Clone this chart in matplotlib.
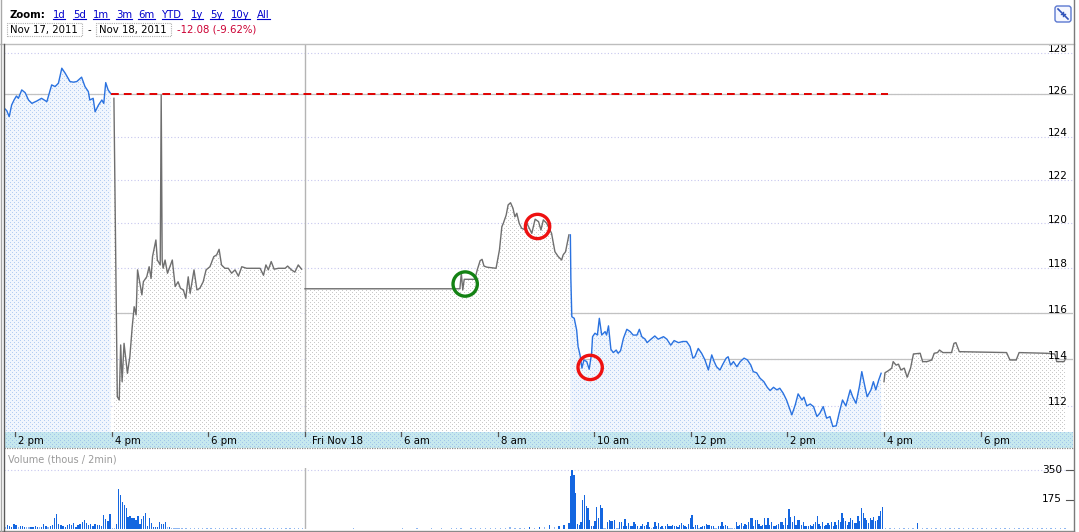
import numpy as np
import matplotlib
matplotlib.use("Agg")
import matplotlib.pyplot as plt
from matplotlib.colors import to_rgba
from matplotlib.lines import Line2D
from matplotlib.patches import Rectangle, FancyBboxPatch
from matplotlib.transforms import IdentityTransform, blended_transform_factory, offset_copy

# ---------------- data (times in clock hours) ----------------
# Nov 17, regular session (blue)
d1_reg_t = [13.76, 13.82, 13.87, 13.92, 13.97, 14.02, 14.06, 14.13, 14.20, 14.27, 14.34, 14.44,
            14.54, 14.65, 14.75, 14.82, 14.89, 14.96, 15.03, 15.13, 15.20, 15.27, 15.37, 15.44,
            15.51, 15.54, 15.61, 15.65, 15.72, 15.79, 15.83, 15.87, 15.92, 15.97]
d1_reg_p = [125.36, 125.22, 124.94, 125.49, 125.73, 125.92, 125.81, 126.21, 126.08, 125.73, 125.57, 125.68,
            125.81, 125.65, 126.45, 126.37, 126.53, 127.25, 127.01, 126.61, 126.58, 126.61, 126.82, 126.37,
            126.13, 125.73, 125.81, 125.17, 125.49, 125.73, 125.57, 126.56, 126.21, 126.05]

# Nov 17, after hours (grey)
d1_ah_t = [16.04, 16.11, 16.15, 16.18, 16.21, 16.25, 16.32, 16.37, 16.42, 16.46, 16.50, 16.53,
           16.62, 16.65, 16.72, 16.77, 16.81, 16.84, 16.91, 16.94, 17.00, 17.02, 17.04, 17.06,
           17.10, 17.15, 17.20, 17.25, 17.31, 17.37, 17.42, 17.48, 17.53, 17.58, 17.62, 17.70,
           17.76, 17.82, 17.89, 17.95, 18.03, 18.11, 18.17, 18.22, 18.27, 18.34, 18.41, 18.48,
           18.55, 18.62, 18.69, 18.79, 18.93, 19.07, 19.14, 19.19, 19.24, 19.30, 19.36, 19.45,
           19.59, 19.64, 19.72, 19.79, 19.86, 19.93]
d1_ah_p = [125.81, 112.39, 112.25, 114.61, 113.03, 114.68, 113.39, 114.10, 115.41, 116.28, 115.92, 117.91,
           116.80, 117.38, 117.60, 118.05, 117.53, 118.50, 119.25, 118.35, 118.13, 125.97, 118.35, 117.98,
           118.35, 117.76, 118.05, 118.35, 117.17, 117.38, 117.09, 117.02, 116.65, 117.60, 116.87, 117.91,
           117.02, 117.09, 117.38, 117.91, 118.05, 118.50, 118.58, 118.83, 118.13, 117.98, 117.98, 117.76,
           117.91, 117.63, 118.05, 117.98, 117.98, 117.98, 117.67, 118.13, 117.91, 118.28, 117.94, 117.98,
           117.98, 118.08, 117.91, 117.81, 118.13, 117.94]

# Nov 18, pre-market (grey)
d2_pre_t = [4.00, 6.38, 7.20, 7.21, 7.24, 7.27, 7.30, 7.52, 7.57, 7.63, 7.67, 7.71, 7.77, 7.96,
            8.03, 8.08, 8.11, 8.17, 8.21, 8.26, 8.31, 8.35, 8.39, 8.44, 8.49, 8.54, 8.60, 8.70,
            8.77, 8.84, 8.89, 8.94, 9.01, 9.11, 9.18, 9.25, 9.32, 9.35, 9.40, 9.47]
d2_pre_p = [117.07, 117.07, 117.07, 117.07, 117.76, 117.02, 117.49, 117.49, 117.91, 118.32, 118.38, 118.08,
            118.03, 117.98, 118.80, 119.85, 120.00, 120.38, 120.84, 120.94, 120.69, 120.30, 120.46, 120.00,
            119.78, 119.73, 120.00, 119.55, 120.19, 120.08, 119.70, 120.16, 120.00, 119.55, 118.72, 118.50,
            118.35, 118.58, 118.72, 119.48]

# Nov 18, regular session (blue)
d2_reg_t = [9.50, 9.51, 9.53, 9.58, 9.63, 9.66, 9.70, 9.74, 9.78, 9.84, 9.89, 9.94, 9.96, 10.01,
            10.06, 10.10, 10.15, 10.22, 10.25, 10.29, 10.34, 10.39, 10.45, 10.49, 10.54, 10.60, 10.67,
            10.74, 10.80, 10.88, 10.93, 10.98, 11.05, 11.09, 11.17, 11.25, 11.32, 11.43, 11.50, 11.58,
            11.65, 11.74, 11.83, 11.91, 11.98, 12.04, 12.08, 12.15, 12.22, 12.29, 12.36, 12.43, 12.48,
            12.53, 12.60, 12.67, 12.73, 12.77, 12.82, 12.88, 12.95, 13.02, 13.10, 13.17, 13.24, 13.29,
            13.36, 13.43, 13.51, 13.58, 13.64, 13.71, 13.78, 13.84, 13.91, 13.98, 14.09, 14.16, 14.22,
            14.30, 14.34, 14.40, 14.47, 14.54, 14.61, 14.67, 14.74, 14.81, 14.88, 14.94, 15.01, 15.07,
            15.14, 15.21, 15.30, 15.35, 15.42, 15.49, 15.54, 15.59, 15.65, 15.73, 15.78, 15.83, 15.89,
            15.94]
d2_reg_p = [119.48, 117.53, 115.84, 115.77, 115.26, 114.54, 114.18, 113.61, 113.96, 113.89, 113.56, 114.25,
            114.97, 115.12, 115.04, 115.77, 115.04, 115.19, 115.04, 115.44, 114.42, 114.28, 114.39, 114.25,
            114.36, 114.90, 115.29, 115.19, 115.04, 115.04, 115.29, 114.97, 114.86, 114.71, 114.86, 115.00,
            114.86, 114.97, 114.86, 114.60, 114.80, 114.71, 114.76, 114.76, 114.54, 114.04, 114.10, 114.46,
            114.25, 113.96, 113.53, 114.18, 113.89, 113.67, 113.53, 113.82, 114.04, 114.10, 113.74, 113.89,
            113.67, 113.89, 114.04, 113.96, 113.74, 113.46, 113.41, 113.18, 113.03, 112.79, 112.65, 112.79,
            112.68, 112.75, 112.54, 112.25, 111.62, 112.04, 112.51, 112.25, 112.37, 112.00, 112.08, 111.97,
            111.55, 111.69, 111.97, 111.48, 111.55, 111.13, 111.16, 111.69, 112.25, 112.00, 112.68, 112.39,
            112.11, 112.82, 113.46, 112.96, 112.39, 112.68, 113.03, 112.68, 113.10, 113.39]

# Nov 18, after hours (grey)
d2_ah_t = [16.00, 16.02, 16.09, 16.16, 16.19, 16.25, 16.30, 16.35, 16.42, 16.48, 16.55, 16.61, 16.75,
           16.80, 16.89, 16.99, 17.04, 17.11, 17.15, 17.22, 17.40, 17.45, 17.49, 17.56, 18.54, 18.61,
           18.74, 18.80, 19.37, 19.54, 19.58, 19.73, 19.77]
d2_ah_p = [113.03, 113.41, 113.50, 113.61, 113.89, 113.74, 113.78, 113.53, 113.61, 113.22, 113.61, 114.22,
           114.25, 113.89, 113.89, 113.96, 114.25, 114.28, 114.39, 114.28, 114.28, 114.68, 114.71, 114.32,
           114.28, 113.96, 113.96, 114.28, 114.25, 114.22, 113.89, 113.89, 114.04]

prev_close = 126.0
prev_close_span = [15.97, 16.08]          # Nov 17 4pm -> Nov 18 ~4pm

circle_t = [7.32, 8.82, 9.91]             # Nov 18 clock hours
circle_p = [117.28, 119.86, 113.64]
circle_c = ["#148214", "#ee1111", "#ee1111"]

# volume (thousands per 2 min)
vol_d1_reg = [10, 24, 16, 14, 32, 24, 10, 16, 16, 14, 10, 10, 12, 14, 20, 12, 10, 12, 28, 16, 10, 20, 24, 68,
              88, 32, 24, 16, 14, 26, 28, 24, 36, 14, 24, 28, 40, 52, 36, 24, 32, 20, 28, 24, 24, 16, 84, 60,
              48, 90]
vol_d1_ah = [8, 8, 30, 240, 200, 160, 144, 124, 70, 76, 68, 68, 56, 80, 30, 60, 76, 94, 20, 66, 36, 12, 14, 14,
             44, 32, 28, 44, 10, 12, 8, 8, 8, 8, 8]
vol_d1_late = [6, 4, 8, 4, 6, 4, 4, 6, 4, 4, 8, 4, 4, 6, 4, 4, 4, 6, 4, 4, 4, 6, 4, 4, 4, 4, 6, 4, 4, 4]
vol_d2_pre = [4, 0, 0, 0, 0, 0, 0, 0, 0, 0, 4, 0, 0, 4, 0, 0, 4, 0, 4, 0, 4, 6, 4, 0, 6, 4, 8, 4, 6, 4,
              8, 6, 10, 6, 8, 6, 12, 8, 14, 10, 24, 10, 16, 22, 36]
vol_d2_reg = [316, 352, 320, 216, 32, 26, 40, 172, 200, 136, 126, 56, 16, 20, 46, 128, 66, 140, 126, 8, 8, 40,
              52, 46, 46, 56, 6, 6, 40, 40, 20, 60, 16, 36, 20, 16, 40, 32, 16, 8, 16, 32, 16, 24, 44, 12, 8,
              12, 40, 16, 36, 12, 16, 8, 20, 32, 20, 16, 24, 20, 16, 12, 26, 36, 26, 16, 12, 32, 66, 86, 12, 26,
              26, 8, 12, 20, 20, 32, 24, 24, 16, 20, 8, 8, 20, 20, 40, 16, 24, 20, 6, 6, 8, 8, 40, 16, 24, 36,
              20, 32, 24, 40, 68, 68, 20, 52, 56, 32, 16, 24, 68, 24, 64, 26, 40, 20, 16, 24, 32, 40, 40, 26,
              64, 26, 116, 72, 44, 76, 26, 56, 56, 26, 40, 20, 20, 20, 24, 16, 32, 40, 80, 28, 16, 40, 16, 24,
              36, 24, 44, 20, 40, 24, 56, 44, 92, 64, 46, 24, 44, 64, 56, 36, 36, 80, 46, 124, 92, 66, 52, 36,
              66, 52, 70, 48, 52, 76, 108, 132]
vol_d2_ah = [6, 4, 6, 4, 4, 6, 4, 34, 4, 4, 4, 4, 4, 4, 4, 4, 6, 4, 4, 4, 4, 4, 4, 4, 6, 4, 4, 4, 4, 4,
             4, 4, 4, 4, 4, 6, 4, 4, 4, 4]

price_ticks = [112, 114, 116, 118, 120, 122, 124, 126, 128]
vol_ticks = [175, 350]
tick_hours = [14, 16, 18, 20, 6, 8, 10, 12, 14, 16, 18]
tick_day = [1, 1, 1, 1, 2, 2, 2, 2, 2, 2, 2]
tick_labels = ["2 pm", "4 pm", "6 pm", "Fri Nov 18", "6 am", "8 am", "10 am", "12 pm", "2 pm", "4 pm", "6 pm"]
zoom_links = ["1d", "5d", "1m", "3m", "6m", "YTD", "1y", "5y", "10y", "All"]
date_from, date_to = "Nov 17, 2011", "Nov 18, 2011"
change_text = "-12.08 (-9.62%)"

# ---------------- layout ----------------
W, H = 1079, 532
DAY2 = 16.0               # Nov 18 clock hour h is drawn at DAY2 + h (overnight gap collapsed)
X_MIN, X_MAX = 13.762, 35.917
Y_MIN, Y_MAX = 110.90, 128.42
FS = 7.3
plt.rcParams["font.family"] = ["DejaVu Sans"]

fig = plt.figure(figsize=(W / 100, H / 100), dpi=100)
fig.patch.set_facecolor("white")


def rect(x0, y0, x1, y1):
    return [x0 / W, 1 - y1 / H, (x1 - x0) / W, (y1 - y0) / H]


AXL, AXR = 4, 1073
ax = fig.add_axes(rect(AXL, 44, AXR, 432))
band = fig.add_axes(rect(AXL, 432, AXR, 448))
vax = fig.add_axes(rect(AXL, 468, AXR, 529))

for a in (ax, band, vax):
    a.set_xlim(X_MIN, X_MAX)
    a.set_axis_off()
ax.set_yscale("log")
ax.set_ylim(Y_MIN, Y_MAX)
band.set_ylim(0, 1)
vax.set_ylim(0, 350 * 61 / 59)
for a in (ax, band, vax):
    a.set_autoscale_on(False)


def dots(h, w, bg, fg, per=4):
    arr = np.empty((h, w, 4))
    arr[:] = to_rgba(bg)
    yy, xx = np.mgrid[0:h, 0:w]
    m = ((yy % per == 0) & (xx % per == 0)) | ((yy % per == per // 2) & (xx % per == per // 2))
    arr[m] = to_rgba(fg)
    return arr


AW, AH = AXR - AXL, 432 - 44
pat_blue = dots(AH, AW, "#f1f6fd", "#b3cdf2")
pat_grey = dots(AH, AW, "#ffffff", "#c9c9c9")

segments = [
    (np.array(d1_reg_t), d1_reg_p, "#2a72e0", pat_blue),
    (np.array(d1_ah_t), d1_ah_p, "#6f6f6f", pat_grey),
    (DAY2 + np.array(d2_pre_t), d2_pre_p, "#6f6f6f", pat_grey),
    (DAY2 + np.array(d2_reg_t), d2_reg_p, "#2a72e0", pat_blue),
    (DAY2 + np.array(d2_ah_t), d2_ah_p, "#6f6f6f", pat_grey),
]

# grid lines
for v in price_ticks:
    ax.axhline(v, color="#c6c6ee", lw=0.8, ls=(0, (1, 2)), zorder=0.5)
ax.axhline(126, color="#c2c2c2", lw=0.9, zorder=0.6)
ax.plot([16.04, 16.48], [116, 116], color="#c2c2c2", lw=0.9, zorder=0.6)
ax.plot([DAY2 + 9.5, X_MAX], [116, 116], color="#c2c2c2", lw=0.9, zorder=0.6)
ax.plot([DAY2 + 9.5, X_MAX], [114, 114], color="#c2c2c2", lw=0.9, zorder=0.6)

for t, p, col, pat in segments:
    poly = ax.fill_between(t, p, Y_MIN, facecolor="none", edgecolor="none", linewidth=0)
    im = ax.imshow(pat, extent=(0, 1, 0, 1), transform=ax.transAxes, aspect="auto",
                   interpolation="nearest", zorder=1)
    im.set_clip_path(poly.get_paths()[0], ax.transData)

# day divider
ax.axvline(20, color="#b4b4b4", lw=1.0, zorder=2)
vax.axvline(20, color="#b4b4b4", lw=1.0, zorder=2)

# previous close
ax.plot([prev_close_span[0], DAY2 + prev_close_span[1]], [prev_close, prev_close], color="#e00000",
        lw=1.4, dashes=(4, 2.6), zorder=3)

for t, p, col, pat in segments:
    ax.plot(t, p, color=col, lw=1.0, zorder=4)

ax.scatter(DAY2 + np.array(circle_t), circle_p, s=17.5 ** 2, facecolors="none",
           edgecolors=circle_c, linewidths=2.4, zorder=5)

ylab_tr = offset_copy(blended_transform_factory(ax.transAxes, ax.transData), fig, x=0, y=0.5, units="dots")
for v in price_ticks:
    ax.text(1 - 5 / AW, v, str(v), transform=ylab_tr, ha="right", va="baseline",
            fontsize=7.6, color="black", zorder=6, clip_on=False)

# ---------------- time band ----------------
band.imshow(dots(16, AW, "#c6e8ee", "#a2c6ea"), extent=(0, 1, 0, 1), transform=band.transAxes,
            aspect="auto", interpolation="nearest", zorder=0)
for h, d, lab in zip(tick_hours, tick_day, tick_labels):
    x = h if d == 1 else DAY2 + h
    band.plot([x, x], [1.0, 0.72], color="#555555", lw=0.9, zorder=2)
    off = 7 if lab.startswith("Fri") else 3
    band.text(x, 0.45, lab, transform=offset_copy(band.transData, fig, x=off, y=0, units="dots"),
              ha="left", va="center", fontsize=FS, color="black")
band.plot([X_MIN, X_MAX], [0.0, 0.0], color="#8a8a8a", lw=0.9, ls=(0, (1, 1)), clip_on=False)

# ---------------- volume ----------------
vol_sets = [
    (np.linspace(13.79, 15.96, len(vol_d1_reg)), vol_d1_reg),
    (np.linspace(16.01, 17.39, len(vol_d1_ah)), vol_d1_ah),
    (np.linspace(17.45, 19.95, len(vol_d1_late)), vol_d1_late),
    (DAY2 + np.linspace(5.0, 9.47, len(vol_d2_pre)), vol_d2_pre),
    (DAY2 + np.linspace(9.5, 15.97, len(vol_d2_reg)), vol_d2_reg),
    (DAY2 + np.linspace(16.03, 19.75, len(vol_d2_ah)), vol_d2_ah),
]
for t, v in vol_sets:
    v = np.array(v)
    cols = ["#1466e0" if x >= 12 else "#8db6f2" for x in v]
    vax.bar(t, v, width=0.027, color=cols, linewidth=0, zorder=2)
vax.axhline(350, color="#c6c6ee", lw=0.8, ls=(0, (1, 2)), zorder=1)
vtr = blended_transform_factory(vax.transAxes, vax.transData)
for v in vol_ticks:
    vax.text(1 - 11 / AW, v, str(v), transform=vtr, ha="right", va="center", fontsize=7.6)
    vax.plot([1 - 7 / AW, 1.0], [v, v], transform=vtr, color="#555555", lw=0.8, clip_on=False)
fig.text(8 / W, 1 - 459 / H, "Volume (thous / 2min)", fontsize=7.0, color="#9a9a9a", va="center")

# ---------------- frame ----------------
def hline(y, x0, x1, **kw):
    fig.add_artist(Line2D([x0 / W, x1 / W], [1 - y / H] * 2, transform=fig.transFigure, **kw))


def vline(x, y0, y1, **kw):
    fig.add_artist(Line2D([x / W] * 2, [1 - y0 / H, 1 - y1 / H], transform=fig.transFigure, **kw))


hline(44, 0, 1074, color="#bdbdbd", lw=1.0)
hline(531, 0, 1074, color="#8a8a8a", lw=1.0)
vline(0.5, 0, 532, color="#a8a8a8", lw=1.0)
vline(3.5, 44, 532, color="#5a5a5a", lw=1.0)
vline(1073.5, 0, 532, color="#7a7a7a", lw=1.0)

# ---------------- header ----------------
ty1, ty2 = 1 - 15 / H, 1 - 30 / H
fig.text(9 / W, ty1, "Zoom:", fontsize=FS, fontweight="bold", va="center")
link_x = [52.7, 72.7, 92.7, 115.7, 138.3, 162.3, 190.7, 210, 231, 257.3]
links = [fig.text(x / W, ty1, s, fontsize=FS, color="#0000cc", va="center") for x, s in zip(link_x, zoom_links)]
fig.add_artist(Rectangle((7 / W, 1 - 36 / H), 75 / W, 13 / H, transform=fig.transFigure, fill=False,
                         edgecolor="#b0b0b0", lw=0.8, ls=(0, (1, 1))))
fig.add_artist(Rectangle((96 / W, 1 - 36 / H), 75 / W, 13 / H, transform=fig.transFigure, fill=False,
                         edgecolor="#b0b0b0", lw=0.8, ls=(0, (1, 1))))
fig.text(10 / W, ty2, date_from, fontsize=FS, va="center")
fig.text(87 / W, ty2, "-", fontsize=FS, va="center")
fig.text(99 / W, ty2, date_to, fontsize=FS, va="center")
fig.text(177 / W, ty2, change_text, fontsize=FS, va="center", color="#cc0033")

fig.add_artist(FancyBboxPatch((1055, H - 22), 16, 16, boxstyle="round,pad=0,rounding_size=2.5",
                              transform=IdentityTransform(), facecolor="#f5f7ff", edgecolor="#5b78d0", lw=1.0))
fig.add_artist(Line2D([1058, 1062.5], [H - 9, H - 13.5], transform=IdentityTransform(), color="#3355bb", lw=1.2))
fig.add_artist(Line2D([1068, 1063.5], [H - 19, H - 14.5], transform=IdentityTransform(), color="#3355bb", lw=1.2))
fig.add_artist(Line2D([1061, 1063, 1063], [H - 14, H - 14, H - 12], transform=IdentityTransform(), color="#3355bb", lw=1.0))
fig.add_artist(Line2D([1065, 1063, 1063], [H - 14, H - 14, H - 16], transform=IdentityTransform(), color="#3355bb", lw=1.0))

fig.canvas.draw()
r = fig.canvas.get_renderer()
for t in links:
    bb = t.get_window_extent(r)
    fig.add_artist(Line2D([bb.x0, bb.x1], [bb.y0 + 1.5] * 2, transform=IdentityTransform(),
                          color="#0000cc", lw=0.8))

fig.savefig("out.png", dpi=100, facecolor="white")
